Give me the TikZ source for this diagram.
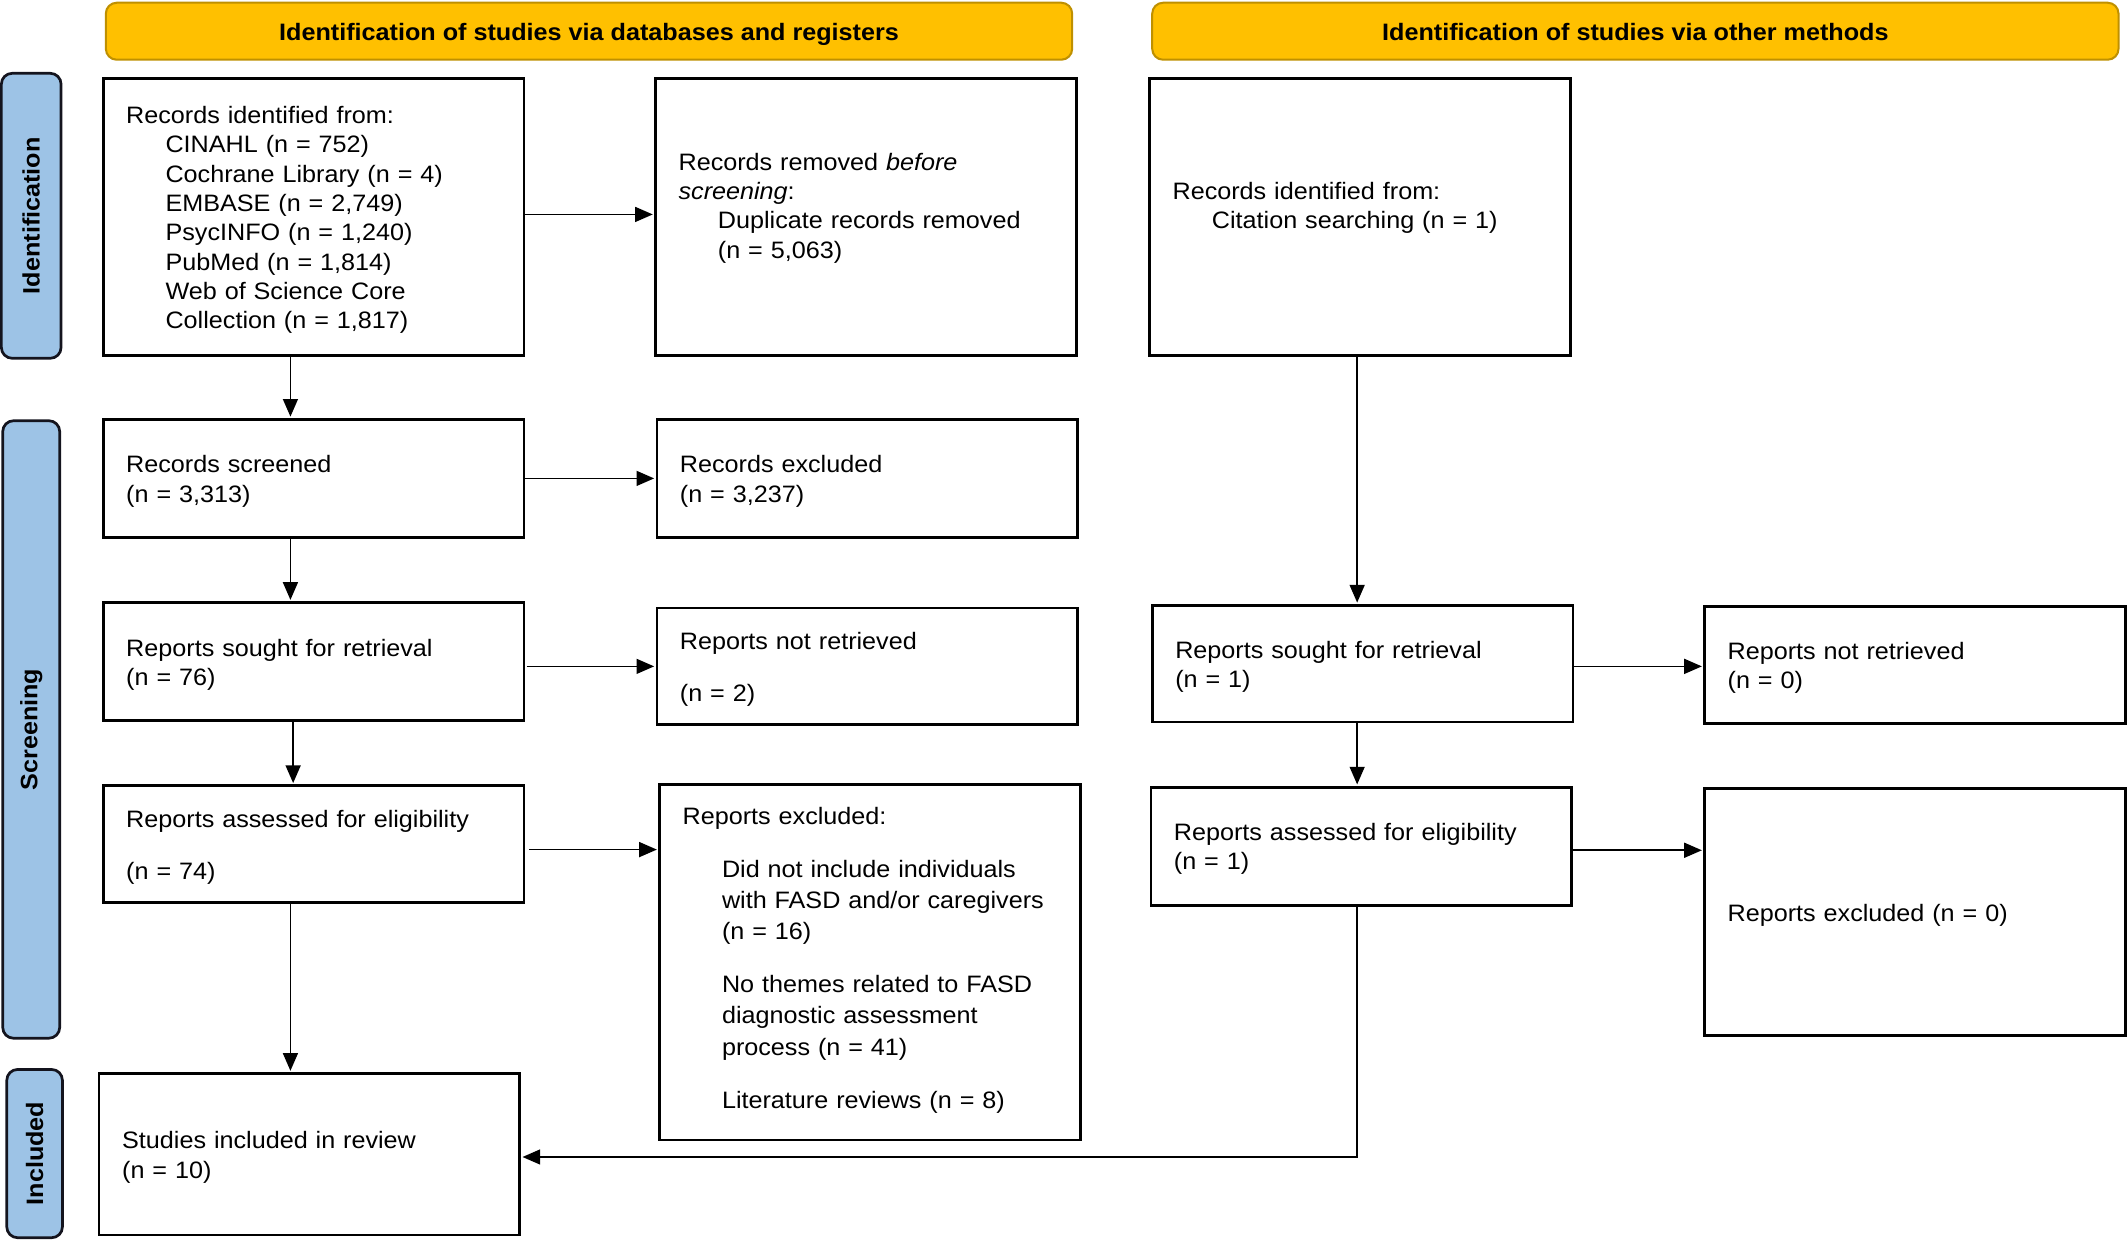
\documentclass[tikz,border=0pt]{standalone}
\usepackage{fontspec}
\setmainfont{Liberation Sans}[FakeStretch=1.06]
\usetikzlibrary{arrows.meta}
\definecolor{hdrfill}{RGB}{255,192,0}
\definecolor{hdrdraw}{RGB}{191,144,0}
\definecolor{sidefill}{RGB}{157,195,230}
\definecolor{sidedraw}{RGB}{20,20,30}
\tikzset{
  box/.style={draw=black, line width=2pt, fill=white, inner xsep=17pt, inner ysep=0pt, outer sep=0pt,
    text width=276pt, align=left, anchor=north west, font=\fontsize{17.5}{21.6}\selectfont,
    execute at begin node={\rule{0pt}{17pt}}},
  hdr/.style={draw=hdrdraw, fill=hdrfill, line width=1.5pt, rounded corners=8pt, inner sep=0pt, outer sep=0pt,
    minimum width=712pt, minimum height=42pt, anchor=north west, font=\fontsize{17.5}{21}\selectfont\bfseries,
    text height=13pt, text depth=0pt},
  side/.style={draw=sidedraw, fill=sidefill, line width=2pt, rounded corners=8pt, inner sep=0pt, outer sep=0pt,
    rotate=90, font=\fontsize{17.5}{21}\selectfont\bfseries},
  arr/.style={draw=black, line width=1.2pt, -{Triangle[length=13pt,width=11pt]}, shorten >=2pt}
}
\newcommand{\ind}{\hspace*{29pt}}
\begin{document}
\begin{tikzpicture}[x=1pt,y=-1pt]
\useasboundingbox (0,0) rectangle (1568,914);
% headers
\node[hdr] (h1) at (78,2) {Identification of studies via databases and registers};
\node[hdr] (h2) at (849,2) {Identification of studies via other methods};
% side labels
\node[side, minimum width=210pt, minimum height=44pt] (s1) at (23,159) {Identification};
\node[side, minimum width=455pt, minimum height=42pt] (s2) at (23,537.5) {Screening};
\node[side, minimum width=124pt, minimum height=41pt] (s3) at (25.5,850) {Included};
% boxes left column
\node[box, minimum height=204pt] (b1) at (76,58) {Records identified from:\\
\ind CINAHL (n = 752)\\
\ind Cochrane Library (n = 4)\\
\ind EMBASE (n = 2,749)\\
\ind PsycINFO (n = 1,240)\\
\ind PubMed (n = 1,814)\\
\ind Web of Science Core\\
\ind Collection (n = 1,817)};
\node[box, minimum height=204pt] (b2) at (483,58) {Records removed \textit{before}\\
\textit{screening}:\\
\ind Duplicate records removed\\
\ind (n = 5,063)\\ \mbox{}};
\node[box, minimum height=204pt] (b3) at (847,58) {Records identified from:\\
\ind Citation searching (n = 1)\\ \mbox{}};
\node[box, minimum height=87pt] (b4) at (76,309) {Records screened\\(n = 3,313)};
\node[box, minimum height=87pt] (b5) at (484,309) {Records excluded\\(n = 3,237)};
\node[box, minimum height=87pt] (b6) at (76,444) {Reports sought for retrieval\\(n = 76)};
\node[box, minimum height=86pt] (b7) at (484,448) {Reports not retrieved\\[17pt](n = 2)};
\node[box, minimum height=86pt] (b8) at (76,579) {Reports assessed for eligibility\\[17pt](n = 74)};
\node[box, minimum height=262pt, font=\fontsize{17.5}{23}\selectfont] (b9) at (486,578) {Reports excluded:\\[16pt]
\ind Did not include individuals\\
\ind with FASD and/or caregivers\\
\ind (n = 16)\\[16pt]
\ind No themes related to FASD\\
\ind diagnostic assessment\\
\ind process (n = 41)\\[16pt]
\ind Literature reviews (n = 8)\\[-12pt]\mbox{}};
\node[box, minimum height=119pt] (b10) at (73,791) {Studies included in review\\(n = 10)};
% right column
\node[box, minimum height=86pt] (b11) at (849,446) {Reports sought for retrieval\\(n = 1)};
\node[box, minimum height=86pt] (b12) at (1256,447) {Reports not retrieved\\(n = 0)};
\node[box, minimum height=87pt] (b13) at (848,580) {Reports assessed for eligibility\\(n = 1)};
\node[box, minimum height=182pt] (b14) at (1256,581) {Reports excluded (n = 0)};
% arrows
\draw[arr] ([yshift=2pt]b1.east) -- ([yshift=2pt]b1.east -| b2.west);
\draw[arr] ([xshift=-17pt]b1.south) -- ([xshift=-17pt]b1.south |- b4.north);
\draw[arr] (b4.east) -- (b4.east -| b5.west);
\draw[arr] ([xshift=-17pt]b4.south) -- ([xshift=-17pt]b4.south |- b6.north);
\draw[arr] ([xshift=2pt]b6.east |- b7.west) -- (b7.west);
\draw[arr] ([xshift=-15pt]b6.south) -- ([xshift=-15pt]b6.south |- b8.north);
\draw[arr] ([xshift=4pt,yshift=-4pt]b8.east) -- ([yshift=-4pt]b8.east -| b9.west);
\draw[arr] ([xshift=-17pt]b8.south) -- ([xshift=-17pt]b8.south |- b10.north);
\draw[arr] ([xshift=-2pt]b3.south) -- ([xshift=-2pt]b3.south |- b11.north);
\draw[arr] ([yshift=-2pt]b11.east) -- ([yshift=-2pt]b11.east -| b12.west);
\draw[arr] ([xshift=-4pt]b11.south) -- ([xshift=-4pt]b11.south |- b13.north);
\draw[arr] ([yshift=-3pt]b13.east) -- ([yshift=-3pt]b13.east -| b14.west);
\draw[arr] ([xshift=-3pt]b13.south) |- ([yshift=-2pt]b10.east);
\end{tikzpicture}
\end{document}
